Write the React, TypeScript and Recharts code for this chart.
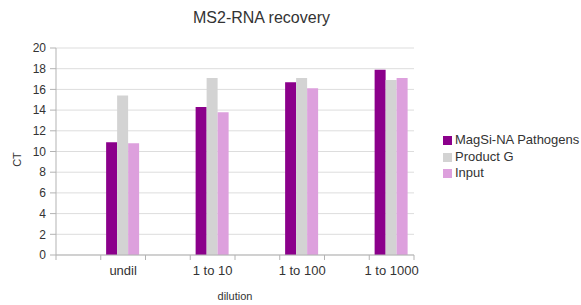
import React from "react";
import {
  BarChart,
  Bar,
  XAxis,
  YAxis,
  CartesianGrid,
  Legend,
  Label,
} from "recharts";

// dilution steps; every category sits in the second half of a pair of slots
const dilutions = ["undil", "1 to 10", "1 to 100", "1 to 1000"];
const magsi = [10.9, 14.3, 16.7, 17.9];
const productG = [15.4, 17.1, 17.1, 16.9];
const input = [10.8, 13.8, 16.1, 17.1];
const yTicks = [0, 2, 4, 6, 8, 10, 12, 14, 16, 18, 20];

const series = [
  { key: "magsi", name: "MagSi-NA Pathogens", color: "#8b008b" },
  { key: "productG", name: "Product G", color: "#d3d3d3" },
  { key: "input", name: "Input", color: "#dda0dd" },
];

const slotLabels: string[] = [];
const data: any[] = [];
dilutions.forEach((d, i) => {
  slotLabels.push("", d);
  data.push({ slot: data.length, magsi: null, productG: null, input: null });
  data.push({ slot: data.length, magsi: magsi[i], productG: productG[i], input: input[i] });
});

const W = 581;
const H = 305;
const AXIS = "#b3b3b3";
const GRID = "#dddddd";
const TEXT = "#333333";
const FONT = "'Liberation Sans', Arial, sans-serif";
const HALF = (414 - 56) / data.length / 2;

function SlotTick(props: any) {
  const { x, y, payload } = props;
  const i = payload.index;
  const label = slotLabels[i];
  return (
    <g>
      {i === 0 && <line x1={x - HALF} x2={x - HALF} y1={y} y2={y + 5} stroke={AXIS} />}
      <line x1={x + HALF} x2={x + HALF} y1={y} y2={y + 5} stroke={AXIS} />
      {label && (
        <text x={x} y={y + 20} textAnchor="middle" fontSize={13} fill={TEXT} fontFamily={FONT}>
          {label}
        </text>
      )}
    </g>
  );
}

function LegendBox() {
  return (
    <div style={{ fontFamily: FONT, fontSize: 13, color: TEXT, whiteSpace: "nowrap" }}>
      {series.map((s) => (
        <div key={s.key} style={{ height: 16.7, lineHeight: "16.7px", display: "flex", alignItems: "center" }}>
          <span style={{ width: 9, height: 9, background: s.color, display: "inline-block", marginRight: 3 }} />
          <span>{s.name}</span>
        </div>
      ))}
    </div>
  );
}

export default function App() {
  return (
    <div style={{ position: "absolute", left: 0, top: 0, width: W, height: H, background: "#fff", overflow: "hidden", fontFamily: FONT }}>
      <div
        style={{
          position: "absolute",
          top: 9,
          left: 0,
          width: 523,
          textAlign: "center",
          fontSize: 16,
          color: TEXT,
        }}
      >
        MS2-RNA recovery
      </div>
      <BarChart
        width={W}
        height={H}
        data={data}
        margin={{ top: 48, right: 167, bottom: 0, left: 0 }}
        barCategoryGap="12%"
        barGap={0}
      >
        <CartesianGrid vertical={false} stroke={GRID} />
        <XAxis
          dataKey="slot"
          type="category"
          height={50}
          interval={0}
          tickSize={0}
          tickMargin={0}
          tickLine={false}
          axisLine={{ stroke: AXIS }}
          tick={<SlotTick />}
        >
          <Label
            value="dilution"
            position="insideBottom"
            offset={5}
            style={{ fontSize: 11, fill: TEXT, fontFamily: FONT }}
          />
        </XAxis>
        <YAxis
          width={56}
          domain={[0, 20]}
          ticks={yTicks}
          interval={0}
          tickSize={6}
          tickMargin={4}
          axisLine={{ stroke: AXIS }}
          tickLine={{ stroke: AXIS }}
          tick={{ fontSize: 12, fill: TEXT, fontFamily: FONT }}
        >
          <Label
            content={(p: any) => {
              const vb = p.viewBox;
              const cx = vb.x + 17;
              const cy = vb.y + vb.height / 2 + 8;
              return (
                <text
                  x={cx}
                  y={cy}
                  transform={`rotate(-90 ${cx} ${cy})`}
                  textAnchor="middle"
                  dominantBaseline="central"
                  fontSize={11}
                  fill={TEXT}
                  fontFamily={FONT}
                >
                  CT
                </text>
              );
            }}
          />
        </YAxis>
        <YAxis
          yAxisId="right"
          orientation="right"
          width={0}
          domain={[0, 20]}
          tick={false}
          tickLine={false}
          axisLine={{ stroke: GRID }}
        />
        <Legend
          content={<LegendBox />}
          layout="vertical"
          align="center"
          verticalAlign="middle"
          wrapperStyle={{ position: "absolute", left: 443, top: 132, width: 140 }}
        />
        {series.map((s) => (
          <Bar key={s.key} dataKey={s.key} name={s.name} fill={s.color} isAnimationActive={false} />
        ))}
      </BarChart>
    </div>
  );
}
